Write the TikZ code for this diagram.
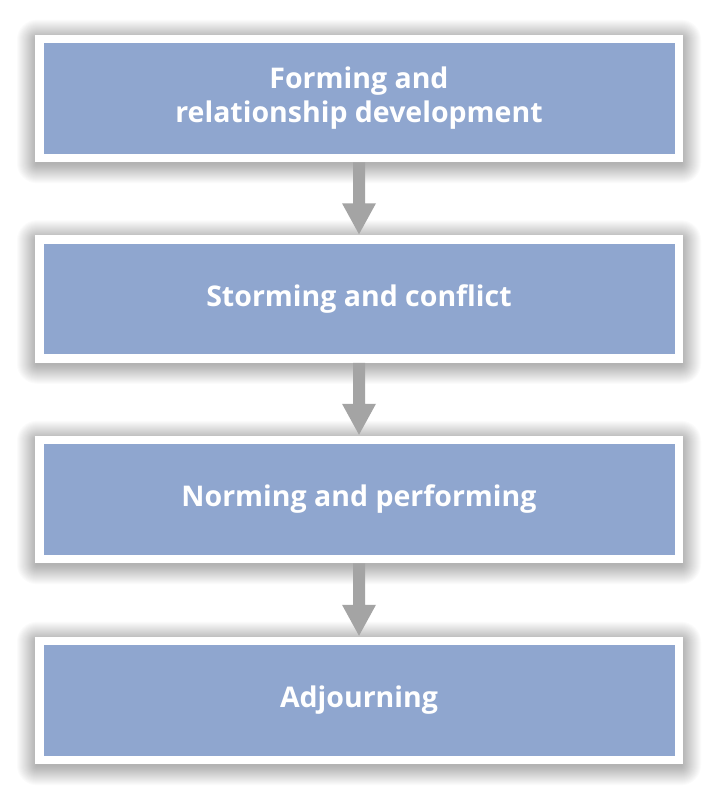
\documentclass[tikz,border=0pt]{standalone}
\usepackage{fontspec}
\setmainfont{Open Sans}
\usetikzlibrary{calc}
\pgfdeclarelayer{bg}
\pgfsetlayers{bg,main}
\definecolor{boxblue}{HTML}{8FA6CF}
\definecolor{arrowgray}{HTML}{A4A4A4}
\tikzset{
  stagebox/.style={rectangle, fill=boxblue, draw=white, line width=8.5pt,
    minimum width=639.5pt, minimum height=119pt, inner sep=0pt, outer sep=0pt,
    text=white, font=\fontsize{28.5}{34}\selectfont\bfseries, align=center},
  flowarrow/.style={draw=none, fill=arrowgray},
  shadowlayer/.style={fill=black, opacity=0.017}
}
\newcommand{\downarrowshape}[2]{% #1 top coordinate, #2 bottom coordinate
  \path let \p1=(#1), \p2=(#2) in
    [flowarrow] (\x1-6pt,\y1) -- (\x1+6pt,\y1) -- (\x1+6pt,\y2+31pt) -- (\x1+17pt,\y2+31pt)
    -- (\x1,\y2) -- (\x1-17pt,\y2+31pt) -- (\x1-6pt,\y2+31pt) -- cycle;
}
\begin{document}
\begin{tikzpicture}[x=1pt,y=-1pt]
\useasboundingbox (0,0) rectangle (719,800);
\node[stagebox] (b1) at (359,98.5) {Forming and\\relationship development};
\node[stagebox] (b2) at (359,299) {Storming and conflict};
\node[stagebox] (b3) at (359,499.5) {Norming and performing};
\node[stagebox] (b4) at (359,700.5) {Adjourning};
\begin{pgfonlayer}{bg}
\fill[white] (0,0) rectangle (719,800);
\foreach \b in {b1,b2,b3,b4}{
  \foreach \i in {1,...,20}{
    \fill[shadowlayer, rounded corners=\i pt]
      ($(\b.north west)+(-\i-2.25,-\i-2.25+3)$) rectangle ($(\b.south east)+(\i+2.25,\i+2.25+3)$);
  }
}
\end{pgfonlayer}
\coordinate (a1s) at ($(b1.south)+(0,4.25)$);
\coordinate (a1e) at ($(b2.north)+(0,-5.25)$);
\coordinate (a2s) at ($(b2.south)+(0,4.25)$);
\coordinate (a2e) at ($(b3.north)+(0,-5.25)$);
\coordinate (a3s) at ($(b3.south)+(0,4.25)$);
\coordinate (a3e) at ($(b4.north)+(0,-5.25)$);
\downarrowshape{a1s}{a1e}
\downarrowshape{a2s}{a2e}
\downarrowshape{a3s}{a3e}
\end{tikzpicture}
\end{document}
